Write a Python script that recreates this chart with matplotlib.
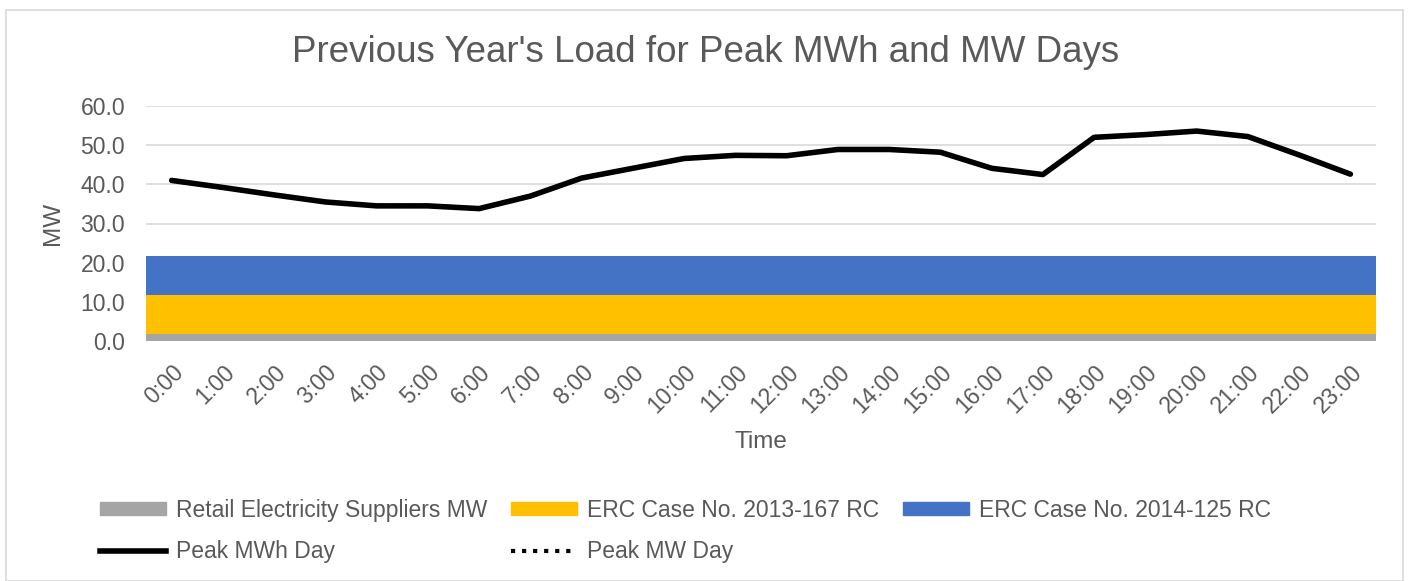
import numpy as np
import matplotlib.pyplot as plt
from matplotlib.patches import Rectangle
from matplotlib.lines import Line2D

plt.rcParams['font.family'] = ['Liberation Sans', 'DejaVu Sans']

hours = [f"{h}:00" for h in range(24)]
retail_mw = [1.7] * 24
erc_2013 = [10.0] * 24
erc_2014 = [10.0] * 24
peak_mwh_day = [41.0, 39.2, 37.3, 35.5, 34.5, 34.5, 33.8, 37.0, 41.6, 44.1, 46.6, 47.4,
                47.3, 48.9, 48.9, 48.2, 44.1, 42.5, 52.0, 52.7, 53.6, 52.2, 47.5, 42.6]
peak_mw_day = [41.0, 39.2, 37.3, 35.5, 34.5, 34.5, 33.8, 37.0, 41.6, 44.1, 46.6, 47.4,
               47.3, 48.9, 48.9, 48.2, 44.1, 42.5, 52.0, 52.7, 53.6, 52.2, 47.5, 42.6]

txt = '#595959'
fig = plt.figure(figsize=(14.1, 5.81), dpi=100)
fig.patches.append(Rectangle((6/1410, 0), 1397/1410, 1 - 10/581, transform=fig.transFigure,
                             fill=False, edgecolor='#D9D9D9', linewidth=1.2))
ax = fig.add_axes([146/1410, 1 - 341/581, 1230/1410, 235/581])

x = np.arange(len(hours))
r = np.array(retail_mw)
a = np.array(erc_2013)
b = np.array(erc_2014)
ax.bar(x, r, width=1.0, color='#A5A5A5', linewidth=0, zorder=2)
ax.bar(x, a, width=1.0, bottom=r, color='#FFC000', linewidth=0, zorder=2)
ax.bar(x, b, width=1.0, bottom=r + a, color='#4472C4', linewidth=0, zorder=2)
ax.plot(x, peak_mw_day, color='black', linestyle=':', linewidth=3, zorder=3)
ax.plot(x, peak_mwh_day, color='black', linewidth=4, solid_capstyle='round', zorder=4)

ax.set_xlim(-0.5, 23.5)
ax.set_ylim(0, 60)
ax.set_yticks(np.arange(0, 61, 10))
ax.set_yticklabels([f"{v:.1f}" for v in np.arange(0, 61, 10)])
ax.set_xticks(x)
ax.set_xticklabels(hours, rotation=45, ha='right', rotation_mode='anchor')
ax.tick_params(axis='both', length=0, labelsize=16.5, colors=txt)
ax.tick_params(axis='y', pad=15)
ax.tick_params(axis='x', pad=14)
ax.grid(axis='y', color='#D9D9D9', linewidth=1.2, zorder=0)
ax.set_axisbelow(True)
for s in ax.spines.values():
    s.set_visible(False)

ax.set_ylabel('MW', fontsize=17.5, color=txt, labelpad=12)
ax.set_xlabel('Time', fontsize=17.5, color=txt, labelpad=10)
fig.text(706/1410, 1 - 53/581, "Previous Year's Load for Peak MWh and MW Days",
         ha='center', va='center', fontsize=26.5, color=txt)

handles = [Rectangle((0, 0), 1, 1, color='#A5A5A5'),
           Line2D([], [], color='black', linewidth=4),
           Rectangle((0, 0), 1, 1, color='#FFC000'),
           Line2D([], [], color='black', linestyle=':', linewidth=3),
           Rectangle((0, 0), 1, 1, color='#4472C4')]
labels = ['Retail Electricity Suppliers MW', 'Peak MWh Day',
          'ERC Case No. 2013-167 RC', 'Peak MW Day',
          'ERC Case No. 2014-125 RC']
leg = fig.legend(handles, labels, ncol=3, loc='center left',
                 bbox_to_anchor=(79/1410, 1 - 531/581), frameon=False,
                 fontsize=16.5, handlelength=2.9, handleheight=0.5,
                 columnspacing=1.0, handletextpad=0.45, labelspacing=0.8)
for t in leg.get_texts():
    t.set_color(txt)

fig.savefig('out.png', dpi=100)
